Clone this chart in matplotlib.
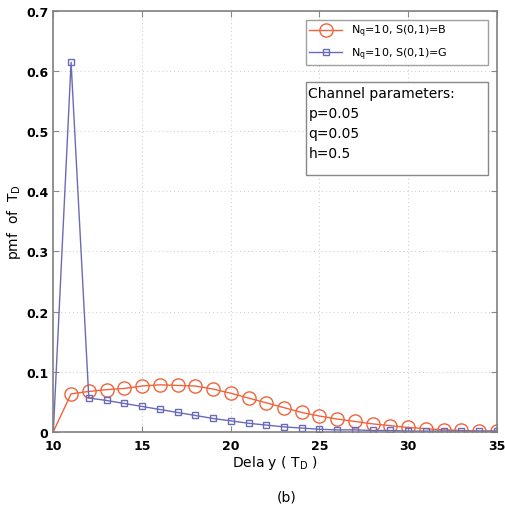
import matplotlib
matplotlib.use("Agg")
import matplotlib.pyplot as plt
from matplotlib.patches import Rectangle

delay = list(range(10, 36))
pmf_B = [0.0, 0.063, 0.067, 0.070, 0.072, 0.076, 0.078, 0.077, 0.076, 0.071, 0.064,
         0.056, 0.048, 0.040, 0.032, 0.026, 0.021, 0.017, 0.013, 0.010, 0.007,
         0.005, 0.003, 0.002, 0.001, 0.001]
pmf_G = [0.0, 0.615, 0.056, 0.052, 0.047, 0.042, 0.037, 0.032, 0.027, 0.022, 0.018,
         0.014, 0.011, 0.008, 0.006, 0.004, 0.003, 0.003, 0.002, 0.002, 0.001,
         0.001, 0.001, 0.001, 0.001, 0.001]
label_B = r'N$_{\rm q}$=10, S(0,1)=B'
label_G = r'N$_{\rm q}$=10, S(0,1)=G'
xticks = [10, 15, 20, 25, 30, 35]
yticks = [0, 0.1, 0.2, 0.3, 0.4, 0.5, 0.6, 0.7]
ytick_labels = ['0', '0.1', '0.2', '0.3', '0.4', '0.5', '0.6', '0.7']
params_text = 'Channel parameters:\np=0.05\nq=0.05\nh=0.5'

orange = '#f0643c'
blue = '#6a6ab8'

fig = plt.figure(figsize=(5.05, 5.10), dpi=100)
ax = fig.add_axes([0.1056, 0.1516, 0.984 - 0.1056, 0.976 - 0.1516])

ax.plot(delay, pmf_B, color=orange, lw=1.0, marker='o', ms=9.5, mfc='none',
        mec=orange, mew=1.0, markevery=list(range(1, len(delay))), label=label_B)
ax.plot(delay, pmf_G, color=blue, lw=1.0, marker='s', ms=4.2, mfc='none',
        mec=blue, mew=1.0, markevery=list(range(1, len(delay))), label=label_G)

ax.set_xlim(10, 35)
ax.set_ylim(0, 0.7)
ax.set_xticks(xticks)
ax.set_yticks(yticks)
ax.set_yticklabels(ytick_labels)
ax.tick_params(direction='in', length=4, color='#888888', labelsize=9,
               top=True, right=True)
ax.tick_params(axis='x', pad=5)
for lab in ax.get_xticklabels() + ax.get_yticklabels():
    lab.set_fontweight('bold')
ax.grid(True, linestyle=(0, (1, 3)), color='#c8c8c8', lw=0.7)
for s in ax.spines.values():
    s.set_color('#808080')
    s.set_linewidth(1.2)

ax.set_xlabel(r'Dela y ( T$_{\rm D}$ )', fontsize=10, labelpad=1)
ax.set_ylabel(r'pmf  of  T$_{\rm D}$', fontsize=10)
ax.yaxis.set_label_coords(-0.068, 0.5)

leg = ax.legend(loc='upper left', bbox_to_anchor=(0.569, 0.859, 0.41, 0.121),
                mode='expand', fontsize=8, frameon=True, fancybox=False,
                edgecolor='#888888', handlelength=3.0, borderpad=0.3,
                labelspacing=0.55, borderaxespad=0)
leg.get_frame().set_linewidth(1.0)

ax.add_patch(Rectangle((0.569, 0.611), 0.41, 0.221, transform=ax.transAxes,
                       fc='white', ec='#888888', lw=1.0, zorder=5))
ax.text(0.575, 0.822, params_text, transform=ax.transAxes, fontsize=10,
        va='top', ha='left', linespacing=1.55, zorder=6)

fig.text(0.568, 0.025, '(b)', fontsize=10, ha='center', va='center')

fig.savefig('out.png', dpi=100)
